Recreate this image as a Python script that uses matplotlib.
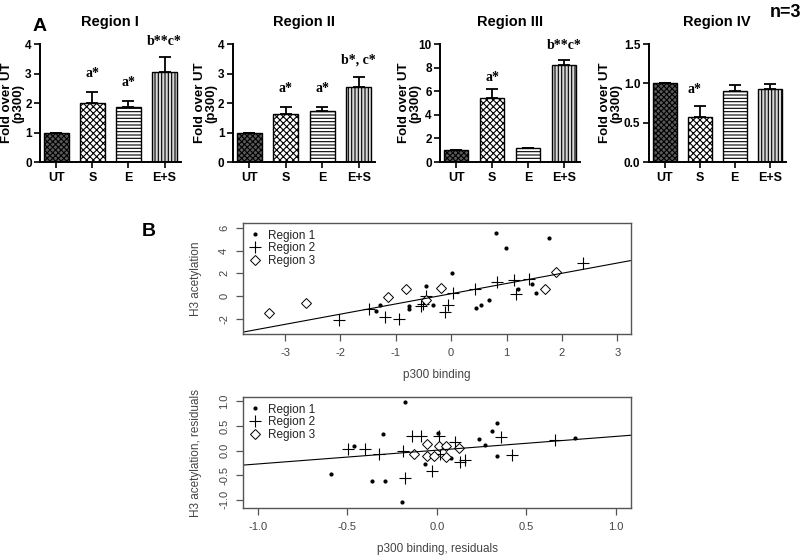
import numpy as np
import matplotlib
matplotlib.use('Agg')
import matplotlib.pyplot as plt

plt.rcParams['font.family'] = ['Liberation Sans', 'DejaVu Sans']
plt.rcParams['hatch.linewidth'] = 0.8

# ---------------- panel A data ----------------
groups = ['UT', 'S', 'E', 'E+S']
titles = ['Region I', 'Region II', 'Region III', 'Region IV']
r1_vals = [1.0, 2.0, 1.88, 3.05]
r1_err = [0, 0.37, 0.2, 0.52]
r2_vals = [1.0, 1.62, 1.73, 2.55]
r2_err = [0, 0.25, 0.12, 0.32]
r3_vals = [1.0, 5.45, 1.2, 8.2]
r3_err = [0, 0.7, 0, 0.45]
r4_vals = [1.0, 0.57, 0.9, 0.93]
r4_err = [0, 0.14, 0.08, 0.06]
yticks_list = [[0, 1, 2, 3, 4], [0, 1, 2, 3, 4], [0, 2, 4, 6, 8, 10], [0.0, 0.5, 1.0, 1.5]]
# significance labels: (x, y, text)
r1_sig = [(1, 3.0, 'a*'), (2, 2.7, 'a*'), (3, 4.07, 'b**c*')]
r2_sig = [(1, 2.5, 'a*'), (2, 2.5, 'a*'), (3, 3.45, 'b*, c*')]
r3_sig = [(1, 7.2, 'a*'), (3, 9.9, 'b**c*')]
r4_sig = [(0.85, 0.92, 'a*')]

# ---------------- panel B data ----------------
reg1_x = [0.81, 0.99, 1.77, 0.01, -0.46, -1.28, -1.36, -0.77, -0.77, -0.33, 0.44, 0.54, 0.68, 1.21, 1.46, 1.54]
reg1_y = [5.57, 4.2, 5.14, 2.05, 0.88, -0.79, -1.29, -0.85, -1.17, -0.79, -1.09, -0.79, -0.38, 0.59, 1.06, 0.24]
reg2_x = [-2.03, -1.49, -1.19, -0.94, -0.55, -0.5, -0.46, -0.06, -0.12, 0.04, 0.43, 0.83, 1.13, 1.41, 1.17, 2.38]
reg2_y = [-2.11, -1.17, -1.82, -2.03, -0.9, -0.7, 0.0, -0.79, -1.38, 0.24, 0.59, 1.2, 1.41, 1.53, 0.18, 2.94]
reg3_x = [-3.3, -2.62, -1.15, -0.82, -0.18, -0.46, 1.9, 1.7]
reg3_y = [-1.47, -0.59, -0.06, 0.59, 0.68, -0.35, 2.14, 0.62]
fit_top = (0.2, 0.9)   # intercept, slope

res1_x = [-0.462, -0.59, -0.36, -0.29, -0.30, -0.18, -0.195, -0.064, 0.007, 0.08, 0.235, 0.27, 0.31, 0.335, 0.335, 0.773]
res1_y = [0.095, -0.47, -0.61, -0.61, 0.34, 0.98, -1.04, -0.27, 0.35, -0.155, 0.23, 0.11, 0.39, 0.56, -0.11, 0.26]
res2_x = [-0.497, -0.40, -0.32, -0.19, -0.175, -0.14, -0.09, 0.011, -0.025, 0.018, 0.1, 0.127, 0.16, 0.357, 0.42, 0.66]
res2_y = [0.035, 0.035, -0.07, -0.01, -0.56, 0.305, 0.305, 0.305, -0.41, -0.07, 0.18, -0.24, -0.19, 0.27, -0.09, 0.21]
res3_x = [-0.125, -0.056, -0.052, -0.013, 0.015, 0.052, 0.052, 0.123]
res3_y = [-0.06, 0.136, -0.1, -0.1, 0.095, 0.095, -0.135, 0.05]
fit_res = (0.01, 0.28)

fig = plt.figure(figsize=(8, 5.56), dpi=100)

# ---------------- panel A ----------------
bar_pos = [[0.050, 0.7086, 0.176, 0.2122], [0.291, 0.7086, 0.178, 0.2122],
           [0.550, 0.7086, 0.175, 0.2122], [0.811, 0.7086, 0.171, 0.2122]]
label_x = [-0.11, -0.11, -0.13, -0.19]
all_vals = [r1_vals, r2_vals, r3_vals, r4_vals]
all_err = [r1_err, r2_err, r3_err, r4_err]
all_sig = [r1_sig, r2_sig, r3_sig, r4_sig]
faces = ['#5a5a5a', 'white', 'white', '#d8d8d8']
hatches = ['xxxxxx', 'xxxxx', '-----', '|||||']

x = np.arange(len(groups))
for i in range(4):
    ax = fig.add_axes(bar_pos[i])
    for j in range(4):
        ax.bar(x[j], all_vals[i][j], width=0.68, color=faces[j], edgecolor='black',
               hatch=hatches[j], linewidth=1.0, zorder=2)
    ax.errorbar(x, all_vals[i], yerr=[np.zeros(4), all_err[i]], fmt='none',
                ecolor='black', elinewidth=1.3, capsize=4, capthick=1.3, zorder=3)
    yt = yticks_list[i]
    ax.set_ylim(yt[0], yt[-1])
    ax.set_yticks(yt)
    if i == 3:
        ax.set_yticklabels(['%.1f' % v for v in yt])
    ax.set_xlim(-0.45, 3.45)
    ax.set_xticks(x)
    ax.set_xticklabels(groups)
    for s in ['top', 'right']:
        ax.spines[s].set_visible(False)
    for s in ['left', 'bottom']:
        ax.spines[s].set_linewidth(1.4)
    ax.tick_params(direction='out', length=4, width=1.2, labelsize=8.5, pad=2)
    ax.tick_params(axis='x', labelsize=9, pad=3)
    for lab in ax.get_xticklabels() + ax.get_yticklabels():
        lab.set_fontweight('bold')
    ax.set_ylabel('Fold over UT\n(p300)', fontsize=9.5, fontweight='bold', linespacing=0.95)
    ax.yaxis.set_label_coords(label_x[i], 0.5)
    ax.set_title(titles[i], fontsize=10.5, fontweight='bold', pad=13)
    for (sx, sy, st) in all_sig[i]:
        ax.text(sx, sy, st, ha='center', va='center', fontsize=10, fontweight='bold',
                family=['Liberation Serif'], clip_on=False)

fig.text(0.05, 0.952, 'A', fontsize=14, fontweight='bold', ha='center', va='center')
fig.text(0.982, 0.977, 'n=3', fontsize=13, fontweight='bold', ha='center', va='center')
fig.text(0.186, 0.583, 'B', fontsize=14, fontweight='bold', ha='center', va='center')

# ---------------- panel B ----------------
gray = '#444444'


def scatter_panel(rect, xs, ys, fit, xlim, ylim, xticks, yticks, xlabel, ylabel, fmt):
    ax = fig.add_axes(rect)
    ax.plot(xs[0], ys[0], '.', color='black', markersize=4, label='Region 1')
    ax.plot(xs[1], ys[1], '+', color='black', markersize=8, markeredgewidth=0.8, label='Region 2')
    ax.plot(xs[2], ys[2], 'D', markerfacecolor='white', markeredgecolor='black',
            markersize=5, markeredgewidth=0.7, label='Region 3')
    ax.axline((0, fit[0]), slope=fit[1], color='black', linewidth=0.8)
    ax.set_xlim(xlim)
    ax.set_ylim(ylim)
    ax.set_xticks(xticks)
    ax.set_yticks(yticks)
    ax.set_xticklabels([fmt % v for v in xticks])
    ax.set_yticklabels([fmt % v for v in yticks], rotation=90, va='center')
    for s in ax.spines.values():
        s.set_color('#555555')
        s.set_linewidth(1.0)
    ax.tick_params(direction='out', length=5, width=0.9, color='#555555', labelsize=8,
                   labelcolor=gray, pad=5)
    ax.set_xlabel(xlabel, fontsize=8.5, color=gray, labelpad=8)
    ax.set_ylabel(ylabel, fontsize=8.5, color=gray, labelpad=12)
    leg = ax.legend(loc='upper left', frameon=False, fontsize=8.5, handlelength=1.0,
                    handletextpad=0.6, labelspacing=0.05, borderaxespad=0.15)
    for t in leg.get_texts():
        t.set_color('#222222')
    return ax


scatter_panel([0.3038, 0.3993, 0.485, 0.1996],
              [reg1_x, reg2_x, reg3_x], [reg1_y, reg2_y, reg3_y], fit_top,
              (-3.76, 3.25), (-3.35, 6.43), [-3, -2, -1, 0, 1, 2, 3], [-2, 0, 2, 4, 6],
              'p300 binding', 'H3 acetylation', '%d')

scatter_panel([0.3038, 0.0863, 0.485, 0.1996],
              [res1_x, res2_x, res3_x], [res1_y, res2_y, res3_y], fit_res,
              (-1.082, 1.085), (-1.165, 1.09), [-1.0, -0.5, 0.0, 0.5, 1.0],
              [-1.0, -0.5, 0.0, 0.5, 1.0],
              'p300 binding, residuals', 'H3 acetylation, residuals', '%.1f')

fig.savefig('out.png', dpi=100)
